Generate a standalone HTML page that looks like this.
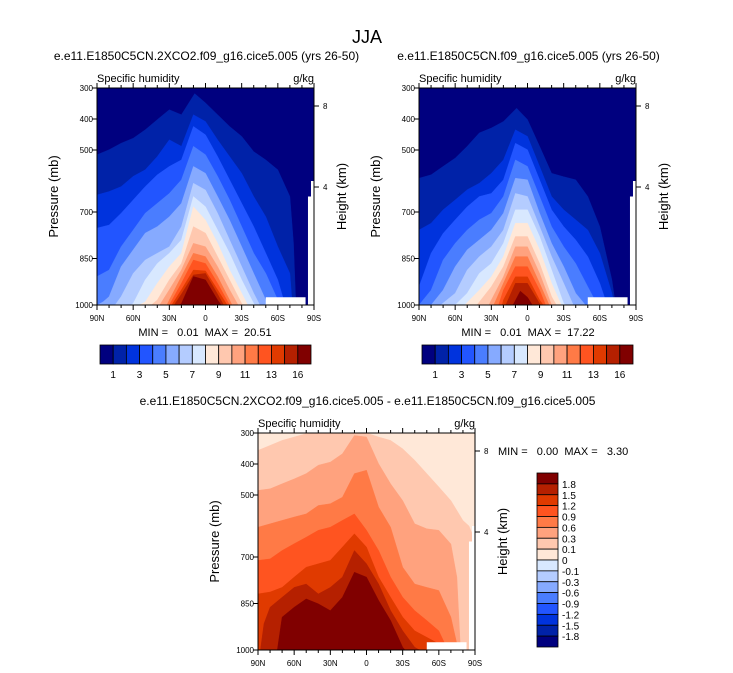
<!DOCTYPE html>
<html><head><meta charset="utf-8">
<style>
html,body{margin:0;padding:0;background:#fff;}
svg{display:block;font-family:"Liberation Sans",sans-serif;}
</style></head>
<body>
<svg id="fig" width="733" height="673" viewBox="0 0 733 673"></svg>
<script>
// ---- data ----
const colors = ["#00007F","#0022A8","#0033DD","#2255FF","#4A7DFF","#86AAFF","#B4CCFF","#D8E8FF","#FFE8D8","#FFC8AF","#FFA27E","#FF7A46","#FF5420","#E03A00","#B52000","#800000"];
const topTickLabels = ["1","3","5","7","9","11","13","16"];
const diffTickLabels = ["1.8","1.5","1.2","0.9","0.6","0.3","0.1","0","-0.1","-0.3","-0.6","-0.9","-1.2","-1.5","-1.8"];
const pressureTicks = [300,400,500,700,850,1000];
const latTicks = [90,60,30,0,-30,-60,-90];
const latTickLabels = ["90N","60N","30N","0","30S","60S","90S"];
const heightTicks = [[8,106],[4,187]];

// top-left: boundaries [lat, pressure] for each contour level (region below is filled)
const tlLevels = [
 [[90,515],[80,499],[70,478],[60,462],[50,435],[40,402],[30,370],[20,386],[9,318],[0,348],[-10,386],[-20,424],[-30,456],[-40,505],[-50,532],[-60,564],[-70,650],[-73,800],[-75,1000]],
 [[90,645],[80,634],[70,618],[60,585],[50,564],[40,521],[30,467],[20,488],[10,386],[0,408],[-10,467],[-20,521],[-30,575],[-40,650],[-50,715],[-60,812],[-70,898],[-72,1000]],
 [[90,752],[80,742],[70,704],[60,661],[50,618],[40,580],[30,553],[20,532],[10,424],[0,451],[-10,521],[-20,596],[-30,672],[-40,747],[-50,833],[-60,919],[-66,1000]],
 [[90,908],[80,887],[70,812],[60,758],[50,704],[40,672],[30,640],[20,596],[10,488],[0,515],[-10,585],[-20,661],[-30,747],[-40,833],[-50,898],[-60,984],[-62,1000]],
 [[90,1000],[85,990],[80,973],[70,876],[60,822],[50,768],[40,747],[30,715],[20,672],[10,553],[0,575],[-10,650],[-20,726],[-30,812],[-40,898],[-50,984],[-53,1000]],
 [[75,1000],[70,973],[60,898],[50,855],[40,833],[30,812],[20,747],[10,607],[0,629],[-10,704],[-20,790],[-30,876],[-40,962],[-45,1000]],
 [[62,1000],[60,995],[50,919],[40,866],[30,833],[20,790],[10,650],[0,683],[-10,758],[-20,833],[-30,919],[-40,995],[-41,1000]],
 [[55,1000],[50,990],[40,930],[30,876],[20,833],[10,683],[0,726],[-10,801],[-20,887],[-30,962],[-35,1000]],
 [[45,1000],[40,984],[30,919],[20,866],[10,747],[0,768],[-10,844],[-20,919],[-30,995],[-31,1000]],
 [[38,1000],[30,951],[20,887],[10,801],[0,812],[-10,876],[-20,951],[-27,1000]],
 [[32,1000],[30,984],[20,908],[10,833],[0,844],[-10,908],[-20,984],[-22,1000]],
 [[30,1000],[20,930],[10,855],[0,866],[-10,930],[-20,1000]],
 [[28,1000],[20,951],[10,887],[0,890],[-10,951],[-18,1000]],
 [[26,1000],[20,965],[10,903],[0,898],[-10,965],[-15,1000]],
 [[22,1000],[20,995],[10,908],[0,919],[-10,984],[-13,1000]]
];
// top-right
const trLevels = [
 [[90,591],[80,580],[70,553],[60,526],[50,488],[40,445],[30,429],[20,408],[9,365],[0,402],[-10,488],[-20,575],[-30,586],[-40,596],[-50,650],[-60,747],[-70,919],[-73,1000]],
 [[90,758],[80,736],[70,693],[60,661],[50,628],[40,607],[30,575],[20,532],[10,435],[0,456],[-10,553],[-20,650],[-30,693],[-40,725],[-50,758],[-60,833],[-70,962],[-72,1000]],
 [[90,941],[80,833],[70,769],[60,725],[50,683],[40,650],[30,640],[20,596],[10,478],[0,499],[-10,596],[-20,693],[-30,747],[-40,790],[-50,844],[-60,930],[-66,1000]],
 [[90,1000],[80,952],[70,855],[60,801],[50,758],[40,725],[30,704],[20,650],[10,532],[0,553],[-10,650],[-20,747],[-30,812],[-40,866],[-50,941],[-58,1000]],
 [[80,1000],[70,952],[60,876],[50,822],[40,790],[30,758],[20,704],[10,591],[0,596],[-10,704],[-20,801],[-30,876],[-40,962],[-48,1000]],
 [[72,1000],[60,962],[50,887],[40,844],[30,812],[20,758],[10,640],[0,650],[-10,747],[-20,844],[-30,930],[-38,1000]],
 [[60,1000],[50,962],[40,898],[30,866],[20,801],[10,693],[0,693],[-10,779],[-20,887],[-30,995],[-32,1000]],
 [[52,1000],[40,952],[30,909],[20,844],[10,736],[0,736],[-10,822],[-20,930],[-28,1000]],
 [[42,1000],[30,941],[20,876],[10,779],[0,779],[-10,866],[-20,973],[-24,1000]],
 [[32,1000],[30,984],[20,909],[10,812],[0,812],[-10,898],[-20,1000]],
 [[28,1000],[20,930],[10,844],[0,844],[-10,930],[-18,1000]],
 [[24,1000],[20,952],[10,876],[0,876],[-10,952],[-15,1000]],
 [[21,1000],[20,984],[10,909],[0,909],[-10,984],[-13,1000]],
 [[18,1000],[10,930],[0,930],[-10,995],[-11,1000]],
 [[12,1000],[6,955],[0,975],[-4,1000]]
];
// difference plot (levels start from 0.1 boundary)
const dfLevels = [
 [[90,356],[80,340],[70,324],[60,313],[50,302],[40,300],[0,300],[-10,313],[-20,324],[-30,351],[-40,388],[-50,431],[-60,474],[-70,518],[-80,582],[-85,600],[-90,647],[-90,1000]],
 [[90,485],[80,480],[70,464],[60,448],[50,431],[40,404],[30,394],[20,367],[10,308],[0,313],[-10,399],[-20,464],[-30,518],[-40,593],[-50,609],[-60,614],[-70,658],[-75,765],[-78,1000]],
 [[90,604],[80,593],[70,582],[60,571],[50,561],[40,534],[30,528],[20,507],[10,431],[0,420],[-10,539],[-20,604],[-30,733],[-40,787],[-50,798],[-60,808],[-70,894],[-75,980],[-77,1000]],
 [[90,711],[80,706],[70,679],[60,657],[50,636],[40,614],[30,604],[20,582],[10,561],[0,614],[-10,679],[-20,765],[-30,830],[-40,873],[-50,905],[-60,938],[-65,980],[-68,1000]],
 [[90,819],[80,813],[70,798],[60,765],[50,733],[40,722],[30,711],[20,668],[10,625],[0,668],[-10,765],[-20,830],[-30,894],[-40,938],[-50,959],[-60,980],[-63,1000]],
 [[88,1000],[85,915],[80,862],[70,830],[60,798],[50,787],[40,819],[30,798],[20,765],[10,679],[0,722],[-10,787],[-20,873],[-30,938],[-40,991],[-44,1000]],
 [[74,1000],[70,894],[60,862],[50,835],[40,851],[30,873],[20,830],[10,749],[0,765],[-10,840],[-20,905],[-30,991],[-32,1000]]
];

// ---- drawing ----
const NS="http://www.w3.org/2000/svg";
const svg=document.getElementById('fig');
function el(tag,attrs,parent){const e=document.createElementNS(NS,tag);for(const k in attrs)e.setAttribute(k,attrs[k]);(parent||svg).appendChild(e);return e;}
function txt(s,x,y,size,anchor,parent,extra){const t=el('text',Object.assign({x:x,y:y,'font-size':size,'text-anchor':anchor||'start',fill:'#000'},extra||{}),parent);t.textContent=s;return t;}

function panel(name,x0,y0,baseColor,levels,colorOffset,opts){
  const W=217,H=217;
  const g=el('g',{});
  
  
  const xs=lat=>x0+(90-lat)/180*W;
  const ys=p=>y0+(p-300)/700*H;
  const bg=el('rect',{x:x0,y:y0,width:W,height:H,fill:baseColor},g);
  
  
  levels.forEach((lv,i)=>{
    let pts=lv.map(d=>xs(d[0]).toFixed(1)+','+ys(d[1]).toFixed(1));
    pts.push(xs(lv[lv.length-1][0]).toFixed(1)+','+ys(1000));
    pts.push(xs(lv[0][0]).toFixed(1)+','+ys(1000));
    const poly=el('polygon',{points:pts.join(' '),fill:colors[i+colorOffset],stroke:colors[i+colorOffset],'stroke-width':0.4},g);
    
    
  });
  // missing-data white areas
  el('rect',{x:xs(-50),y:ys(975),width:xs(-83)-xs(-50),height:ys(1000)-ys(975)+1,fill:'#fff'},g);
  el('rect',{x:xs(-85),y:ys(650),width:xs(-90)-xs(-85)+1,height:ys(1000)-ys(650)+1,fill:'#fff'},g);
  el('rect',{x:xs(-87.5),y:ys(600),width:xs(-90)-xs(-87.5)+1,height:ys(650)-ys(600),fill:'#fff'},g);
  el('rect',{x:x0,y:y0,width:W,height:H,fill:'none',stroke:'#000','stroke-width':1},g);
  // ticks
  pressureTicks.forEach(p=>{
    el('line',{x1:x0-5,x2:x0,y1:ys(p),y2:ys(p),stroke:'#000'},g);
    const t=txt(String(p),x0-4,ys(p)+3,8,'end',g);
    
    
  });
  for(let lat=90;lat>=-90;lat-=10){
    const maj=lat%30===0;
    el('line',{x1:xs(lat),x2:xs(lat),y1:y0+H,y2:y0+H+(maj?5:3),stroke:'#000'},g);
    el('line',{x1:xs(lat),x2:xs(lat),y1:y0,y2:y0-(maj?5:3),stroke:'#000'},g);
  }
  latTicks.forEach((lat,i)=>{
    const t=txt(latTickLabels[i],xs(lat),y0+H+16,8,'middle',g);
    
    
  });
  heightTicks.forEach(h=>{
    const yy=y0+(h[1]-88);
    el('line',{x1:x0+W,x2:x0+W+5,y1:yy,y2:yy,stroke:'#000'},g);
    txt(String(h[0]),x0+W+9,yy+3,8,'start',g);
  });
  const a=txt('Specific humidity',x0,y0-6,11,'start',g);
  
  
  const u=txt('g/kg',x0+W,y0-6,11,'end',g);
  
  
  const yl=txt('Pressure (mb)',0,0,13,'middle',g,{transform:`translate(${x0-39},${y0+H/2}) rotate(-90)`});
  
  
  const yr=txt('Height (km)',0,0,13,'middle',g,{transform:`translate(${x0+W+32},${y0+H/2}) rotate(-90)`});
  
  
  txt(opts.title,x0+W/2+1,y0-28,12,'middle',g);
  return g;
}

function hColorbar(name,x0,y0,w,h){
  const g=el('g',{});
  
  
  const bw=w/colors.length;
  colors.forEach((c,i)=>{
    const r=el('rect',{x:x0+i*bw,y:y0,width:bw,height:h,fill:c,stroke:'#000','stroke-width':0.8},g);
    
    
  });
  topTickLabels.forEach((s,i)=>{
    const t=txt(s,x0+(2*i+1)*bw,y0+h+14,10,'middle',g);
    
    
  });
}

const title=txt('JJA',367,43,18,'middle');



panel('panel-2xco2',97,88,colors[0],tlLevels,1,{title:'e.e11.E1850C5CN.2XCO2.f09_g16.cice5.005 (yrs 26-50)'});
panel('panel-control',419,88,colors[0],trLevels,1,{title:'e.e11.E1850C5CN.f09_g16.cice5.005 (yrs 26-50)'});
panel('panel-difference',258,433,colors[8],dfLevels,9,{title:'e.e11.E1850C5CN.2XCO2.f09_g16.cice5.005 - e.e11.E1850C5CN.f09_g16.cice5.005'});

let m1=txt('MIN =   0.01  MAX =  20.51',205,336,11,'middle');


let m2=txt('MIN =   0.01  MAX =  17.22',528,336,11,'middle');


let m3=txt('MIN =   0.00  MAX =   3.30',498,455,11,'start');


document.querySelectorAll('text').forEach(t=>t.setAttribute('xml:space','preserve'));
document.querySelectorAll('text').forEach(t=>t.style.whiteSpace='pre');

hColorbar('colorbar-2xco2',100,345,211,19);
hColorbar('colorbar-control',422,345,211,19);

// vertical colorbar for difference
(function(){
  const g=el('g',{});
  
  
  const x0=537,y0=473,w=21,h=174,bh=h/colors.length;
  for(let i=0;i<colors.length;i++){
    const r=el('rect',{x:x0,y:y0+i*bh,width:w,height:bh,fill:colors[colors.length-1-i],stroke:'#000','stroke-width':0.8},g);
    
    
  }
  diffTickLabels.forEach((s,i)=>{
    const t=txt(s,x0+w+4,y0+(i+1)*bh+4,10,'start',g);
    
    
  });
})();
</script>
</body></html>
